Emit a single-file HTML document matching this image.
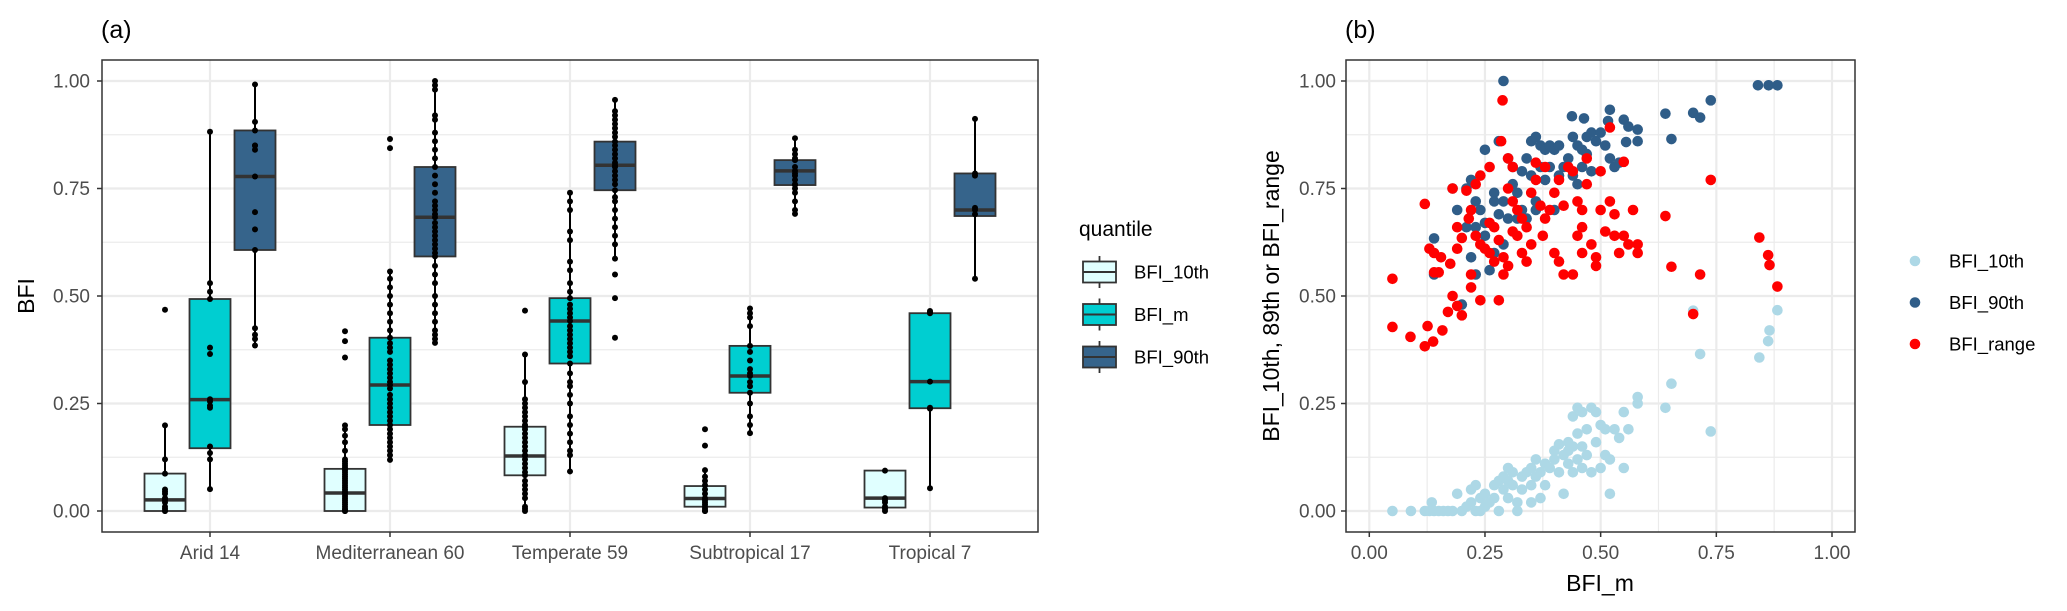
<!DOCTYPE html>
<html><head><meta charset="utf-8"><style>
html,body{margin:0;padding:0;background:#fff;}
svg{display:block;font-family:"Liberation Sans",Arial,sans-serif;}
</style></head><body>
<svg id="chart" width="2067" height="611" viewBox="0 0 2067 611" xmlns="http://www.w3.org/2000/svg">
<rect x="0" y="0" width="2067" height="611" fill="#fff"/>
<g id="pa"></g>
<g id="pb"></g>
</svg>
<script>
// ---------- Panel (a) data ----------
const categories = ["Arid 14","Mediterranean 60","Temperate 59","Subtropical 17","Tropical 7"];
const quantiles = ["BFI_10th","BFI_m","BFI_90th"];
const yTicks = [0,0.25,0.5,0.75,1];
const yTickLabels = ["0.00","0.25","0.50","0.75","1.00"];
// per category, per quantile
const q1 =  [[0,0.146,0.607],[0,0.2,0.592],[0.083,0.343,0.746],[0.010,0.275,0.758],[0.008,0.239,0.686]];
const med = [[0.026,0.259,0.778],[0.042,0.293,0.683],[0.128,0.442,0.804],[0.029,0.314,0.791],[0.030,0.301,0.70]];
const q3 =  [[0.087,0.493,0.885],[0.098,0.403,0.8],[0.196,0.495,0.859],[0.058,0.384,0.816],[0.094,0.46,0.785]];
const wlo = [[0,0.051,0.383],[0,0.119,0.391],[0,0.092,0.587],[0,0.181,0.691],[0,0.053,0.54]];
const whi = [[0.199,0.882,0.992],[0.199,0.557,1.0],[0.364,0.74,0.956],[0.095,0.471,0.867],[0.094,0.46,0.912]];
const pts = [
 [[0.468,0.199,0.12,0.087,0.05,0.045,0.04,0.03,0.025,0.02,0.01,0.005,0,0],
  [0.882,0.53,0.51,0.493,0.38,0.365,0.26,0.255,0.245,0.24,0.15,0.135,0.12,0.051],
  [0.992,0.905,0.885,0.85,0.84,0.778,0.695,0.655,0.607,0.425,0.41,0.40,0.385,0.85]],
 [[0.418,0.395,0.357,0.199,0.19,0.175,0.16,0.14,0.12,0.115,0.11,0.105,0.1,0.098,0.095,0.09,0.085,0.08,0.075,0.07,0.065,0.06,0.055,0.05,0.045,0.042,0.04,0.035,0.03,0.025,0.02,0.015,0.01,0.005,0.002,0,0,0],
  [0.865,0.844,0.557,0.54,0.52,0.5,0.48,0.46,0.44,0.42,0.403,0.39,0.38,0.37,0.35,0.34,0.33,0.32,0.31,0.3,0.293,0.285,0.27,0.26,0.25,0.24,0.23,0.22,0.21,0.2,0.19,0.18,0.17,0.16,0.15,0.14,0.13,0.119],
  [1.0,0.99,0.98,0.92,0.91,0.88,0.86,0.84,0.82,0.8,0.78,0.76,0.74,0.72,0.71,0.7,0.69,0.683,0.67,0.66,0.65,0.64,0.63,0.62,0.61,0.6,0.592,0.57,0.55,0.53,0.5,0.48,0.46,0.44,0.42,0.41,0.4,0.391]],
 [[0.466,0.364,0.3,0.26,0.25,0.24,0.23,0.22,0.21,0.2,0.196,0.19,0.18,0.17,0.16,0.15,0.14,0.13,0.128,0.12,0.11,0.1,0.09,0.083,0.07,0.06,0.05,0.04,0.03,0.01,0.005,0],
  [0.74,0.72,0.7,0.65,0.63,0.58,0.56,0.53,0.51,0.495,0.48,0.47,0.46,0.45,0.442,0.43,0.42,0.41,0.4,0.39,0.38,0.37,0.36,0.343,0.32,0.3,0.29,0.27,0.25,0.22,0.2,0.18,0.16,0.14,0.13,0.092],
  [0.956,0.93,0.92,0.91,0.9,0.89,0.88,0.87,0.859,0.85,0.84,0.83,0.82,0.81,0.804,0.8,0.79,0.78,0.77,0.76,0.746,0.73,0.72,0.7,0.68,0.66,0.64,0.62,0.587,0.55,0.495,0.403]]
,
 [[0.19,0.152,0.095,0.08,0.07,0.06,0.05,0.04,0.03,0.025,0.02,0.015,0.01,0.005,0,0,0],
  [0.471,0.46,0.45,0.43,0.384,0.37,0.35,0.33,0.32,0.314,0.3,0.29,0.275,0.25,0.22,0.2,0.181],
  [0.867,0.84,0.83,0.82,0.816,0.8,0.791,0.785,0.78,0.77,0.76,0.758,0.75,0.74,0.72,0.7,0.691]],
 [[0.094,0.03,0.025,0.02,0.01,0.005,0],
  [0.465,0.462,0.46,0.301,0.24,0.238,0.053],
  [0.912,0.785,0.78,0.705,0.70,0.69,0.54]]
];
// ---------- Panel (b) data ----------
const xTicksB = [0,0.25,0.5,0.75,1];
const xTickLabelsB = ["0.00","0.25","0.50","0.75","1.00"];
const seriesB = ["BFI_10th","BFI_90th","BFI_range"];
const pts10 = [[0.05,0],[0.09,0],[0.12,0],[0.13,0],[0.135,0.02],[0.14,0],[0.15,0],[0.16,0],[0.17,0],[0.18,0],[0.19,0.04],[0.20,0],[0.21,0.01],[0.22,0.02],[0.22,0.05],[0.23,0],[0.23,0.06],[0.24,0],[0.24,0.03],[0.25,0.04],[0.25,0.01],[0.26,0.02],[0.27,0.03],[0.27,0.06],[0.28,0.07],[0.28,0],[0.29,0.05],[0.29,0.08],[0.30,0.03],[0.30,0.07],[0.31,0.06],[0.31,0.09],[0.32,0.02],[0.32,0],[0.33,0.08],[0.33,0.05],[0.34,0.09],[0.35,0.06],[0.35,0.10],[0.36,0.08],[0.36,0.12],[0.37,0.03],[0.37,0.09],[0.38,0.06],[0.38,0.11],[0.39,0.10],[0.40,0.12],[0.41,0.09],[0.41,0.155],[0.42,0.04],[0.42,0.13],[0.43,0.14],[0.43,0.11],[0.44,0.09],[0.44,0.15],[0.44,0.22],[0.45,0.18],[0.45,0.12],[0.46,0.10],[0.46,0.15],[0.47,0.19],[0.47,0.13],[0.48,0.24],[0.48,0.09],[0.49,0.16],[0.49,0.23],[0.50,0.20],[0.50,0.10],[0.51,0.13],[0.51,0.19],[0.52,0.04],[0.52,0.12],[0.53,0.19],[0.54,0.17],[0.55,0.23],[0.55,0.10],[0.56,0.19],[0.58,0.25],[0.58,0.265],[0.64,0.24],[0.653,0.296],[0.70,0.466],[0.715,0.365],[0.738,0.185],[0.843,0.357],[0.862,0.395],[0.865,0.42],[0.882,0.467],[0.45,0.24],[0.46,0.23],[0.35,0.02],[0.40,0.14],[0.43,0.16],[0.30,0.10]];
const pts90 = [[0.29,1.0],[0.84,0.99],[0.863,0.99],[0.882,0.99],[0.738,0.955],[0.64,0.924],[0.70,0.926],[0.715,0.915],[0.653,0.865],[0.58,0.86],[0.555,0.858],[0.58,0.887],[0.55,0.91],[0.56,0.894],[0.52,0.933],[0.516,0.907],[0.438,0.918],[0.464,0.913],[0.14,0.634],[0.14,0.55],[0.18,0.75],[0.19,0.70],[0.20,0.48],[0.21,0.75],[0.22,0.59],[0.22,0.77],[0.23,0.55],[0.23,0.66],[0.24,0.70],[0.25,0.64],[0.25,0.84],[0.26,0.56],[0.27,0.74],[0.27,0.60],[0.28,0.69],[0.28,0.86],[0.29,0.72],[0.29,0.62],[0.30,0.82],[0.30,0.68],[0.31,0.80],[0.31,0.76],[0.32,0.68],[0.32,0.74],[0.33,0.79],[0.33,0.70],[0.34,0.82],[0.34,0.68],[0.35,0.86],[0.35,0.78],[0.36,0.87],[0.36,0.72],[0.37,0.85],[0.37,0.80],[0.38,0.84],[0.38,0.77],[0.39,0.85],[0.39,0.80],[0.40,0.84],[0.40,0.70],[0.41,0.85],[0.41,0.78],[0.42,0.80],[0.43,0.82],[0.44,0.87],[0.44,0.78],[0.45,0.85],[0.45,0.76],[0.46,0.84],[0.46,0.80],[0.47,0.87],[0.47,0.83],[0.48,0.88],[0.48,0.79],[0.49,0.86],[0.50,0.88],[0.51,0.85],[0.52,0.82],[0.53,0.80],[0.54,0.81],[0.21,0.66],[0.23,0.72],[0.25,0.67],[0.27,0.72],[0.36,0.70]];
const ptsRange = [[0.05,0.54],[0.05,0.428],[0.089,0.405],[0.12,0.383],[0.126,0.43],[0.138,0.394],[0.158,0.42],[0.12,0.714],[0.288,0.955],[0.738,0.77],[0.64,0.686],[0.653,0.568],[0.715,0.55],[0.70,0.458],[0.843,0.636],[0.862,0.595],[0.865,0.572],[0.882,0.522],[0.52,0.892],[0.55,0.812],[0.17,0.463],[0.19,0.477],[0.20,0.455],[0.18,0.50],[0.22,0.52],[0.24,0.49],[0.28,0.49],[0.22,0.55],[0.14,0.555],[0.15,0.555],[0.13,0.61],[0.14,0.60],[0.155,0.59],[0.175,0.575],[0.19,0.61],[0.20,0.635],[0.19,0.66],[0.18,0.75],[0.21,0.745],[0.22,0.70],[0.23,0.76],[0.24,0.78],[0.26,0.80],[0.215,0.68],[0.23,0.64],[0.24,0.62],[0.25,0.61],[0.26,0.67],[0.27,0.66],[0.28,0.63],[0.29,0.59],[0.29,0.55],[0.30,0.57],[0.31,0.65],[0.31,0.72],[0.30,0.75],[0.30,0.82],[0.31,0.80],[0.32,0.70],[0.33,0.68],[0.33,0.60],[0.34,0.58],[0.35,0.62],[0.35,0.74],[0.36,0.77],[0.37,0.71],[0.36,0.81],[0.38,0.80],[0.375,0.64],[0.39,0.70],[0.40,0.74],[0.40,0.60],[0.41,0.58],[0.42,0.55],[0.42,0.71],[0.43,0.80],[0.44,0.79],[0.45,0.72],[0.45,0.64],[0.44,0.55],[0.46,0.60],[0.46,0.66],[0.47,0.76],[0.47,0.82],[0.48,0.62],[0.49,0.59],[0.50,0.79],[0.50,0.70],[0.51,0.65],[0.52,0.72],[0.53,0.69],[0.53,0.64],[0.54,0.60],[0.55,0.64],[0.56,0.62],[0.57,0.70],[0.58,0.62],[0.58,0.60],[0.26,0.60],[0.27,0.58],[0.285,0.86],[0.32,0.64],[0.34,0.66],[0.38,0.68],[0.41,0.77],[0.46,0.70],[0.49,0.57]];

const NS = "http://www.w3.org/2000/svg";
function mk(parent, tag, attrs, text){
  const e = document.createElementNS(NS, tag);
  for (const k in attrs) e.setAttribute(k, attrs[k]);
  if (text !== undefined) e.textContent = text;
  parent.appendChild(e);
  return e;
}
const boxFill = ["#e0ffff","#00ced1","#36648b"];
const ptCol = ["#add8e6","#2f5d88","#ff0000"];
const GRID = "#ebebeb";
// scales
const yS = v => 511 - v * 430;
const xCat = i => 210 + i * 180;
const xB = v => 1369.3 + v * 462.7;

// ---------- Panel (a) ----------
const pa = document.getElementById('pa');
const A = {l:102, r:1038, t:60, b:532};
const gA = mk(pa,'g',{});


for (let i=0;i<yTicks.length-1;i++){
  const mv=(yTicks[i]+yTicks[i+1])/2;
  mk(gA,'line',{x1:A.l,x2:A.r,y1:yS(mv),y2:yS(mv),stroke:GRID,'stroke-width':1.2});
}
yTicks.forEach(v=>mk(gA,'line',{x1:A.l,x2:A.r,y1:yS(v),y2:yS(v),stroke:GRID,'stroke-width':2.2}));
categories.forEach((c,i)=>mk(gA,'line',{x1:xCat(i),x2:xCat(i),y1:A.t,y2:A.b,stroke:GRID,'stroke-width':2.2}));

categories.forEach((c,i)=>{
  const g = mk(pa,'g',{});
  
  
  for (let j=0;j<3;j++){
    const cx = xCat(i) + (j-1)*45;
    const w = 41;
    const wl = mk(g,'line',{x1:cx,x2:cx,y1:yS(whi[i][j]),y2:yS(q3[i][j]),stroke:'#000','stroke-width':2});
    
    
    const wl2 = mk(g,'line',{x1:cx,x2:cx,y1:yS(q1[i][j]),y2:yS(wlo[i][j]),stroke:'#000','stroke-width':2});
    
    
    const bx = mk(g,'rect',{x:cx-w/2,y:yS(q3[i][j]),width:w,height:Math.max(1,yS(q1[i][j])-yS(q3[i][j])),fill:boxFill[j],stroke:'#333','stroke-width':1.8});
    
    
    const md = mk(g,'line',{x1:cx-w/2,x2:cx+w/2,y1:yS(med[i][j]),y2:yS(med[i][j]),stroke:'#333','stroke-width':3.5});
    
    
    pts[i][j].forEach(v=>{
      const p = mk(g,'circle',{cx:cx,cy:yS(v),r:3,fill:'#000'});
      
      
    });
  }
});
const brA = mk(pa,'rect',{x:A.l,y:A.t,width:A.r-A.l,height:A.b-A.t,fill:'none',stroke:'#333','stroke-width':1.5});


yTicks.forEach((v,k)=>{
  mk(pa,'line',{x1:A.l-5,x2:A.l,y1:yS(v),y2:yS(v),stroke:'#333','stroke-width':1.5});
  const t = mk(pa,'text',{x:A.l-12,y:yS(v)+6.5,'text-anchor':'end','font-size':19,fill:'#4d4d4d'},yTickLabels[k]);
  
  
});
categories.forEach((c,i)=>{
  mk(pa,'line',{x1:xCat(i),x2:xCat(i),y1:A.b,y2:A.b+5,stroke:'#333','stroke-width':1.5});
  const t = mk(pa,'text',{x:xCat(i),y:559,'text-anchor':'middle','font-size':19,fill:'#4d4d4d'},c);
  
  
});
const ytA = mk(pa,'text',{x:0,y:0,transform:'translate(34,296) rotate(-90)','text-anchor':'middle','font-size':23,fill:'#000'},'BFI');


const tagA = mk(pa,'text',{x:101,y:38,'font-size':25,fill:'#000'},'(a)');


// legend a
const lgA = mk(pa,'g',{});


const lgt = mk(lgA,'text',{x:1079,y:236,'font-size':21,fill:'#000'},'quantile');


quantiles.forEach((q,j)=>{
  const cy = 272 + j*42.5;
  const e = mk(lgA,'g',{});
  
  
  mk(e,'line',{x1:1099.5,x2:1099.5,y1:cy-16,y2:cy+16,stroke:'#333','stroke-width':1.8});
  mk(e,'rect',{x:1083,y:cy-10.5,width:33,height:21,fill:boxFill[j],stroke:'#333','stroke-width':1.8});
  mk(e,'line',{x1:1083,x2:1116,y1:cy,y2:cy,stroke:'#333','stroke-width':2});
  mk(e,'text',{x:1134,y:cy+6.5,'font-size':18.5,fill:'#000'},q);
});

// ---------- Panel (b) ----------
const pb = document.getElementById('pb');
const B = {l:1346, r:1855, t:60, b:532};
const gB = mk(pb,'g',{});


for (let i=0;i<yTicks.length-1;i++){
  const mv=(yTicks[i]+yTicks[i+1])/2;
  mk(gB,'line',{x1:B.l,x2:B.r,y1:yS(mv),y2:yS(mv),stroke:GRID,'stroke-width':1.2});
  const mx=(xTicksB[i]+xTicksB[i+1])/2;
  mk(gB,'line',{x1:xB(mx),x2:xB(mx),y1:B.t,y2:B.b,stroke:GRID,'stroke-width':1.2});
}
yTicks.forEach(v=>mk(gB,'line',{x1:B.l,x2:B.r,y1:yS(v),y2:yS(v),stroke:GRID,'stroke-width':2.2}));
xTicksB.forEach(v=>mk(gB,'line',{x1:xB(v),x2:xB(v),y1:B.t,y2:B.b,stroke:GRID,'stroke-width':2.2}));
[pts10,pts90,ptsRange].forEach((arr,s)=>{
  const g = mk(pb,'g',{});
  
  
  arr.forEach(p=>{
    const c = mk(g,'circle',{cx:xB(p[0]),cy:yS(p[1]),r:5.3,fill:ptCol[s]});
    
    
  });
});
const brB = mk(pb,'rect',{x:B.l,y:B.t,width:B.r-B.l,height:B.b-B.t,fill:'none',stroke:'#333','stroke-width':1.5});


yTicks.forEach((v,k)=>{
  mk(pb,'line',{x1:B.l-5,x2:B.l,y1:yS(v),y2:yS(v),stroke:'#333','stroke-width':1.5});
  const t = mk(pb,'text',{x:B.l-10,y:yS(v)+6.5,'text-anchor':'end','font-size':19,fill:'#4d4d4d'},yTickLabels[k]);
  
  
});
xTicksB.forEach((v,k)=>{
  mk(pb,'line',{x1:xB(v),x2:xB(v),y1:B.b,y2:B.b+5,stroke:'#333','stroke-width':1.5});
  const t = mk(pb,'text',{x:xB(v),y:559,'text-anchor':'middle','font-size':19,fill:'#4d4d4d'},xTickLabelsB[k]);
  
  
});
const xtB = mk(pb,'text',{x:1600,y:591,'text-anchor':'middle','font-size':23,fill:'#000'},'BFI_m');


const ytB = mk(pb,'text',{x:0,y:0,transform:'translate(1279,296) rotate(-90)','text-anchor':'middle','font-size':23,fill:'#000'},'BFI_10th, 89th or BFI_range');


const tagB = mk(pb,'text',{x:1345,y:38,'font-size':25,fill:'#000'},'(b)');


const lgB = mk(pb,'g',{});


seriesB.forEach((s,j)=>{
  const cy = 261 + j*41.5;
  const e = mk(lgB,'g',{});
  
  
  mk(e,'circle',{cx:1915,cy:cy,r:5.3,fill:ptCol[j]});
  mk(e,'text',{x:1949,y:cy+6.5,'font-size':18.5,fill:'#000'},s);
});
</script>
</body></html>
